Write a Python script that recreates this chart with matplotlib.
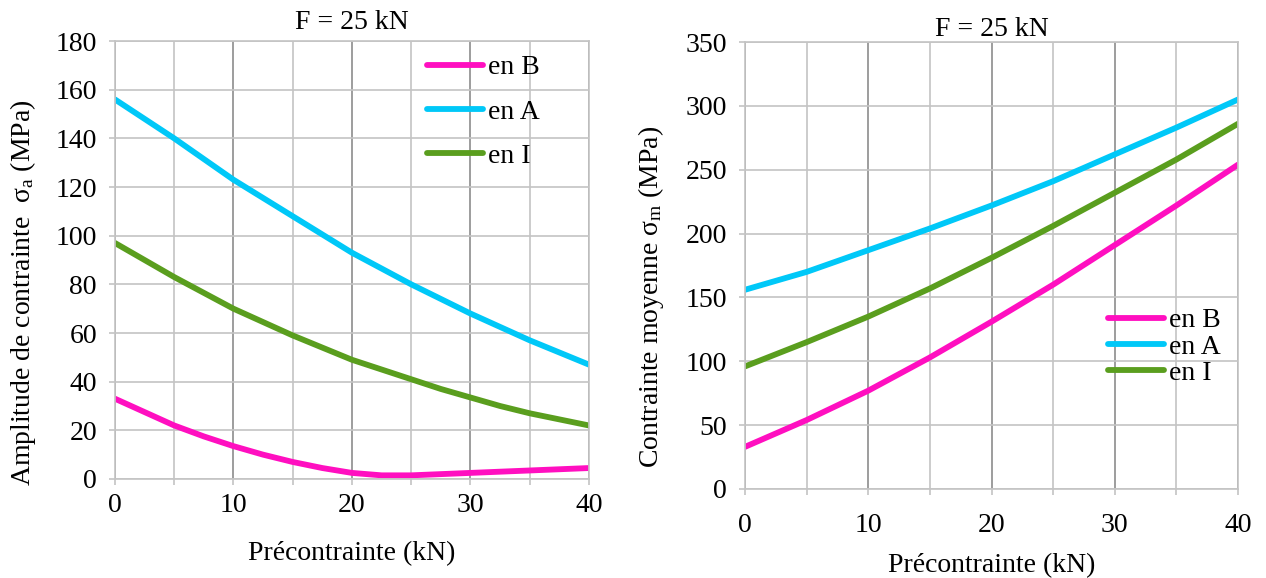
import matplotlib
matplotlib.use("Agg")
import matplotlib.pyplot as plt
import numpy as np

# Précontrainte (kN)
x = [0, 2.5, 5, 7.5, 10, 12.5, 15, 17.5, 20, 22.5, 25, 27.5, 30, 32.5, 35, 37.5, 40]

# amplitude de contrainte sigma_a (MPa)
amp_B = [33, 27.5, 22, 17.5, 13.5, 10, 7, 4.5, 2.5, 1.5, 1.5, 2, 2.5, 3, 3.5, 4, 4.5]
amp_A = [156, 148, 140, 131.5, 123, 115.5, 108, 100.5, 93, 86.5, 80, 74, 68, 62.5, 57, 52, 47]
amp_I = [97, 90, 83, 76.5, 70, 64.5, 59, 54, 49, 45, 41, 37, 33.5, 30, 27, 24.5, 22]

# contrainte moyenne sigma_m (MPa)
moy_B = [33, 43.5, 54, 65.5, 77, 90, 103, 117, 131, 145.5, 160, 175.5, 191, 206.5, 222, 238, 254]
moy_A = [156, 163, 170, 178.5, 187, 195.5, 204, 213, 222, 231.5, 241, 251.5, 262, 272.5, 283, 294, 305]
moy_I = [96, 105.5, 115, 125, 135, 146, 157, 169, 181, 193.5, 206, 219, 232, 245, 258, 272, 286]

labels = ["en B", "en A", "en I"]
colors = ["#ff0fc0", "#00c8f8", "#5a9e1e"]

plt.rcParams.update({
    "font.family": "Liberation Serif",
    "font.size": 20,
    "mathtext.fontset": "custom",
    "mathtext.rm": "Liberation Serif",
    "mathtext.it": "Liberation Serif:italic",
})

fig = plt.figure(figsize=(12.66, 5.78), dpi=100)
axL = fig.add_axes([0.0908, 0.1713, 0.3744, 0.7577])
axR = fig.add_axes([0.5885, 0.154, 0.3894, 0.7733])

MAJ = "#8c8c8c"
MIN = "#c4c4c4"


def style(ax, ymax, ystep, xpad, title_pad, xlabelpad):
    ax.set_xlim(0, 40)
    ax.set_ylim(0, ymax)
    ax.set_xticks([0, 10, 20, 30, 40])
    ax.set_xticks([5, 15, 25, 35], minor=True)
    ax.set_yticks(np.arange(0, ymax + 1, ystep))
    ax.grid(which="major", axis="x", color=MAJ, lw=1.2)
    ax.grid(which="minor", axis="x", color=MIN, lw=1.2)
    ax.grid(which="major", axis="y", color=MIN, lw=1.2)
    for s in ax.spines.values():
        s.set_color(MIN)
        s.set_linewidth(1.2)
    ax.tick_params(which="both", length=4, color=MIN, width=1.2)
    ax.tick_params(axis="x", pad=xpad)
    ax.tick_params(axis="y", pad=9)
    ax.set_axisbelow(True)
    ax.set_title("F = 25 kN", fontsize=20, pad=title_pad)
    ax.set_xlabel("Précontrainte (kN)", labelpad=xlabelpad)


LW = 4.2

for ys, lbl, c in zip([amp_B, amp_A, amp_I], labels, colors):
    axL.plot(x, ys, color=c, lw=LW, label=lbl, solid_capstyle="round")
style(axL, 180, 20, xpad=6, title_pad=9, xlabelpad=17)
axL.set_ylabel(r"Amplitude de contrainte  σ$_{\rm a}$ (MPa)")
axL.yaxis.set_label_coords(-0.162, 0.425)
axL.legend(loc="upper left", frameon=False, handlelength=2.0, handletextpad=0.18,
           labelspacing=0.68, borderpad=0, borderaxespad=0,
           bbox_to_anchor=(427 / 1266, 1 - 55 / 578), bbox_transform=fig.transFigure)

for ys, lbl, c in zip([moy_B, moy_A, moy_I], labels, colors):
    axR.plot(x, ys, color=c, lw=LW, label=lbl, solid_capstyle="round")
style(axR, 350, 50, xpad=13, title_pad=4, xlabelpad=11)
axR.set_ylabel(r"Contrainte moyenne σ$_{\rm m}$ (MPa)")
axR.yaxis.set_label_coords(-0.160, 0.43)
axR.legend(loc="upper left", frameon=False, handlelength=2.0, handletextpad=0.18,
           labelspacing=0.03, borderpad=0, borderaxespad=0,
           bbox_to_anchor=(1108 / 1266, 1 - 308 / 578), bbox_transform=fig.transFigure)

fig.savefig("out.png", dpi=100)
